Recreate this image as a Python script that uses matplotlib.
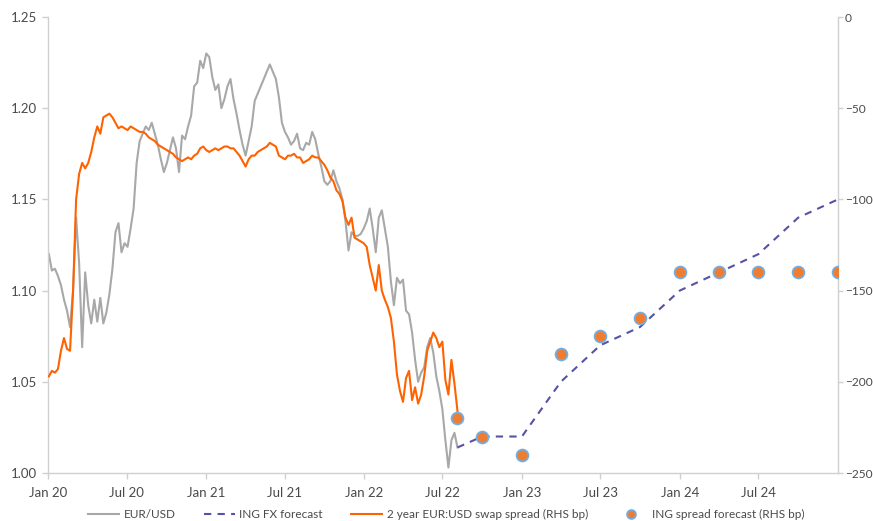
import numpy as np
import pandas as pd
import matplotlib
matplotlib.use("Agg")
from matplotlib import pyplot as plt
import matplotlib.dates as mdates

plt.rcParams['font.family'] = ['Lato', 'DejaVu Sans']

# weekly history, Fridays from 3 Jan 2020 to 5 Aug 2022
hist_dates = pd.date_range('2020-01-03', periods=136, freq='W-FRI')

eurusd = [1.120, 1.111, 1.112, 1.108, 1.103, 1.095, 1.089, 1.080, 1.100, 1.140,
          1.115, 1.069, 1.110, 1.092, 1.082, 1.095, 1.083, 1.096, 1.082, 1.088,
          1.098, 1.112, 1.132, 1.137, 1.121, 1.126, 1.124, 1.134, 1.145, 1.170,
          1.182, 1.186, 1.190, 1.188, 1.192, 1.186, 1.180, 1.172, 1.165, 1.170,
          1.177, 1.184, 1.178, 1.165, 1.185, 1.183, 1.190, 1.196, 1.212, 1.214,
          1.226, 1.222, 1.230, 1.228, 1.217, 1.210, 1.213, 1.200, 1.205, 1.212,
          1.216, 1.205, 1.197, 1.188, 1.180, 1.174, 1.182, 1.190, 1.204, 1.208,
          1.212, 1.216, 1.220, 1.224, 1.220, 1.216, 1.206, 1.192, 1.187, 1.184,
          1.180, 1.182, 1.186, 1.178, 1.177, 1.181, 1.180, 1.187, 1.183, 1.175,
          1.168, 1.160, 1.158, 1.160, 1.166, 1.160, 1.156, 1.150, 1.138, 1.122,
          1.132, 1.130, 1.130, 1.131, 1.134, 1.138, 1.145, 1.134, 1.121, 1.140,
          1.144, 1.134, 1.124, 1.105, 1.092, 1.107, 1.104, 1.106, 1.089, 1.087,
          1.077, 1.062, 1.050, 1.055, 1.058, 1.069, 1.074, 1.066, 1.053, 1.045,
          1.035, 1.018, 1.003, 1.018, 1.022, 1.014]

swap_spread = [-197, -194, -195, -193, -183, -176, -182, -183, -150, -100,
               -86, -80, -83, -80, -74, -66, -60, -64, -55, -54,
               -53, -55, -58, -61, -60, -61, -62, -60, -61, -62,
               -63, -63, -64, -66, -67, -68, -70, -71, -72, -73,
               -74, -75, -77, -78, -79, -78, -77, -78, -76, -75,
               -72, -71, -73, -74, -73, -72, -73, -72, -71, -71,
               -72, -72, -74, -76, -79, -82, -78, -76, -76, -74,
               -73, -72, -71, -69, -70, -71, -76, -77, -78, -76,
               -76, -75, -77, -77, -80, -79, -78, -76, -77, -77,
               -79, -81, -84, -88, -90, -95, -97, -101, -110, -114,
               -110, -121, -122, -123, -124, -126, -136, -143, -150, -136,
               -150, -155, -159, -165, -178, -196, -205, -211, -198, -194,
               -210, -203, -212, -207, -197, -183, -178, -173, -176, -181,
               -178, -199, -207, -188, -201, -216]

# forecasts
fc_dates = pd.to_datetime(['2022-08-05', '2022-10-01', '2023-01-01', '2023-04-01',
                           '2023-07-01', '2023-10-01', '2024-01-01', '2024-04-01',
                           '2024-07-01', '2024-10-01', '2025-01-01'])
fx_forecast = [1.014, 1.020, 1.020, 1.050, 1.070, 1.080, 1.100, 1.110, 1.120, 1.140, 1.150]
spread_forecast = [-220, -230, -240, -185, -175, -165, -140, -140, -140, -140, -140]

grey = '#a8a8a8'
orange = '#ff6200'
purple = '#5552a8'
dot_fill = '#ee7d31'
dot_edge = '#74aee0'
axis_col = '#d0d0d0'
text_col = '#4a4a4a'

fig = plt.figure(figsize=(8.73, 5.21), dpi=100)
ax = fig.add_axes([48/873, 1-473/521, 790/873, 456/521])
ax2 = ax.twinx()

l1, = ax.plot(hist_dates, eurusd, color=grey, lw=1.5, label='EUR/USD')
l2, = ax.plot(fc_dates, fx_forecast, color=purple, lw=1.5, ls=(0, (3.5, 3)),
              label='ING FX forecast')
l3, = ax2.plot(hist_dates, swap_spread, color=orange, lw=1.5,
               label='2 year EUR:USD swap spread (RHS bp)')
l4, = ax2.plot(fc_dates, spread_forecast, ls='none', marker='o', ms=8.5,
               mfc=dot_fill, mec=dot_edge, mew=1.3, zorder=5,
               label='ING spread forecast (RHS bp)')

ax.set_xlim(pd.Timestamp('2020-01-01'), pd.Timestamp('2025-01-01'))
ax.set_ylim(1.0, 1.25)
ax.set_yticks(np.arange(1.0, 1.26, 0.05))
ax.yaxis.set_major_formatter(matplotlib.ticker.FormatStrFormatter('%.2f'))
ax2.set_ylim(-250, 0)
ax2.set_yticks(range(-250, 1, 50))

xt = pd.date_range('2020-01-01', '2024-07-01', freq='6MS')
ax.set_xticks(xt)
ax.xaxis.set_major_formatter(mdates.DateFormatter('%b %y'))

for a in (ax, ax2):
    for s in a.spines.values():
        s.set_visible(False)
    a.tick_params(colors=axis_col, labelcolor=text_col, labelsize=9.5, length=4, width=1)
ax.spines['left'].set_visible(True)
ax.spines['bottom'].set_visible(True)
ax2.spines['right'].set_visible(True)
for s in (ax.spines['left'], ax.spines['bottom'], ax2.spines['right']):
    s.set_color(axis_col)
    s.set_linewidth(1)
ax.tick_params(axis='x', pad=6)
ax.tick_params(axis='y', pad=4)
ax2.tick_params(axis='y', pad=1.5, labelsize=8.6, length=3.5)

fig.legend(handles=[l1, l2, l3, l4], loc='center', bbox_to_anchor=(0.511, 0.012),
           ncol=4, frameon=False, fontsize=8.5, handlelength=2.6, columnspacing=2.4,
           handletextpad=0.4, labelcolor=text_col, markerscale=0.75)

fig.savefig('out.png', dpi=100, facecolor='white')
